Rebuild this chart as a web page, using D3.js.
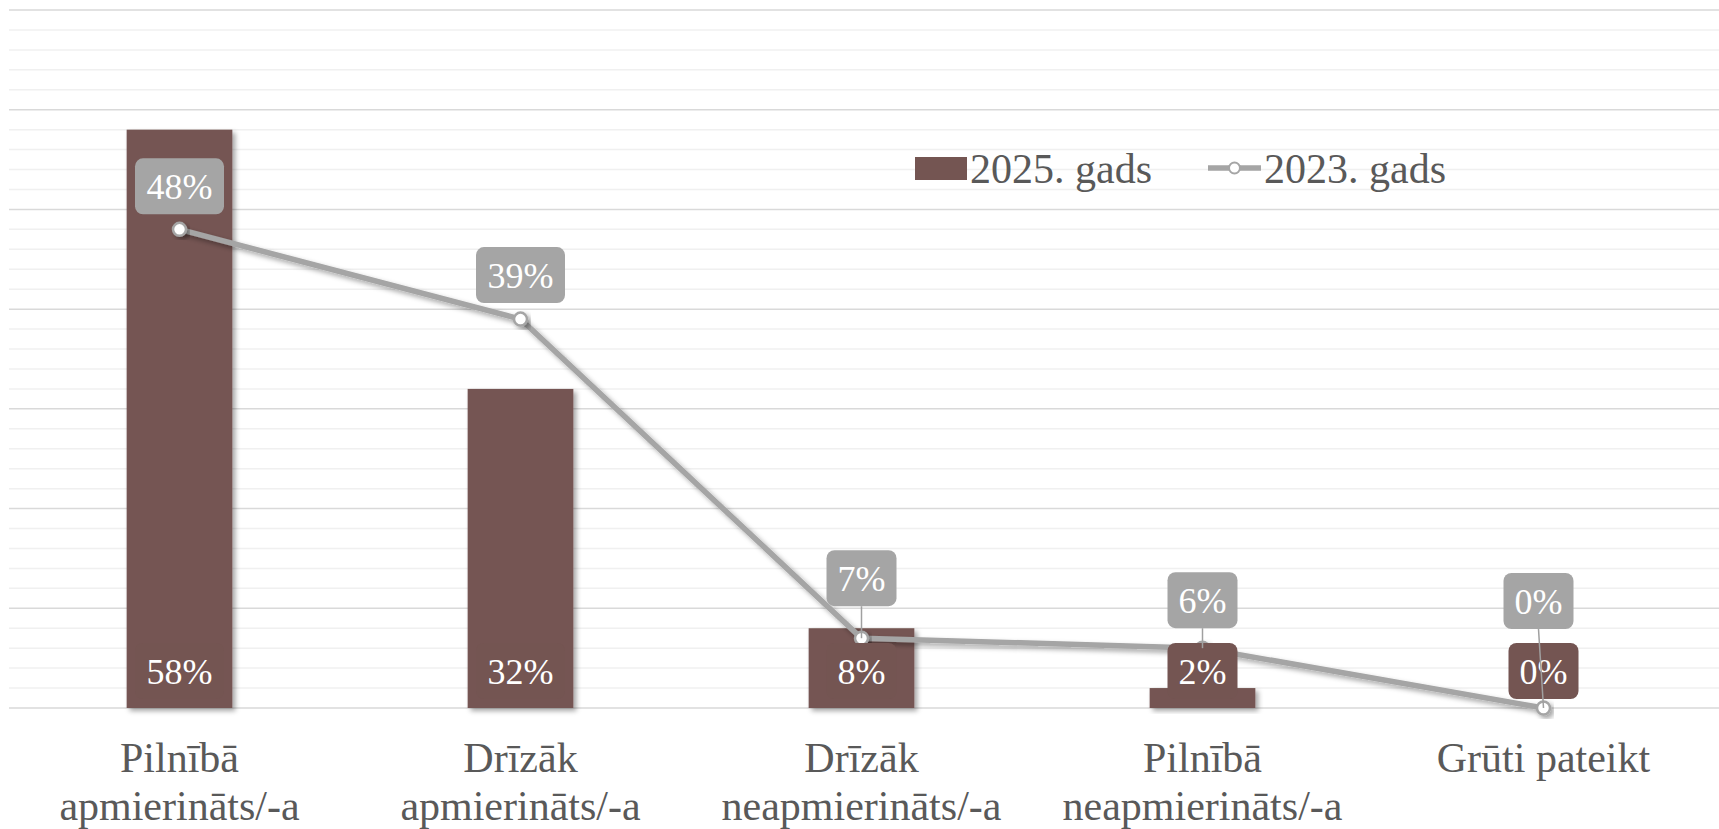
<!DOCTYPE html>
<html>
<head>
<meta charset="utf-8">
<script src="https://cdn.jsdelivr.net/npm/d3@7"></script>
<style>
  body { margin: 0; background: #fff; }
  svg { display: block; }
  text { font-family: "Liberation Serif", "Times New Roman", serif; }
</style>
</head>
<body>
<svg id="chart" width="1719" height="829"></svg>
<script>
// data
var categories = [
  ["Pilnībā", "apmierināts/-a"],
  ["Drīzāk", "apmierināts/-a"],
  ["Drīzāk", "neapmierināts/-a"],
  ["Pilnībā", "neapmierināts/-a"],
  ["Grūti pateikt"]
]
var values2025 = [0.58, 0.32, 0.08, 0.02, 0.00]
var values2023 = [0.48, 0.39, 0.07, 0.06, 0.00]
// where the grey 2023 labels sit above their point (px)
var labelLift2023 = [43, 44, 60, 48, 107]
var labelShift2023 = [0, 0, 0, 0, -5]
var seriesNames = ["2025. gads", "2023. gads"]

var barColor = "#745552"
var lineColor = "#a5a5a5"
var textColor = "#595959"

var svg = d3.select("#chart")
var plotLeft = 9, plotRight = 1719, plotTop = 10, plotBottom = 708

var x = d3.scaleBand()
  .domain(d3.range(categories.length))
  .range([plotLeft, 1714])
  .paddingInner(0.69)
  .paddingOuter(0.345)

var y = d3.scaleLinear().domain([0, 0.7]).range([plotBottom, plotTop])

// shadows
var defs = svg.append("defs")
var f = defs.append("filter").attr("id", "shadow")
  .attr("x", "-20%").attr("y", "-20%").attr("width", "150%").attr("height", "150%")
f.append("feDropShadow")
  .attr("dx", 3).attr("dy", 3).attr("stdDeviation", 2.5)
  .attr("flood-color", "#000").attr("flood-opacity", 0.35)

// gridlines, minor every 2%, major every 10%
var ticks = d3.range(0, 36)
svg.append("g").selectAll("line")
  .data(ticks)
  .enter()
  .append("line")
    .attr("x1", plotLeft)
    .attr("x2", plotRight)
    .attr("y1", function(d){ return y(d*0.02) })
    .attr("y2", function(d){ return y(d*0.02) })
    .attr("stroke", function(d){ return d % 5 == 0 ? "#d9d9d9" : "#f0f0f0" })
    .attr("stroke-width", 1.5)

// bars
svg.append("g").selectAll("rect")
  .data(values2025)
  .enter()
  .append("rect")
    .attr("x", function(d,i){ return x(i) })
    .attr("y", function(d){ return y(d) })
    .attr("width", x.bandwidth())
    .attr("height", function(d){ return plotBottom - y(d) })
    .attr("fill", barColor)
    .attr("filter", "url(#shadow)")

// line 2023
var cx = function(i){ return x(i) + x.bandwidth()/2 }
var line = d3.line()
  .x(function(d,i){ return cx(i) })
  .y(function(d){ return y(d) })

svg.append("path")
  .datum(values2023)
  .attr("d", line)
  .attr("fill", "none")
  .attr("stroke", lineColor)
  .attr("stroke-width", 5.5)
  .attr("stroke-linejoin", "round")
  .attr("filter", "url(#shadow)")

svg.append("g").selectAll("circle")
  .data(values2023)
  .enter()
  .append("circle")
    .attr("cx", function(d,i){ return cx(i) })
    .attr("cy", function(d){ return y(d) })
    .attr("r", 6.5)
    .attr("fill", "#fff")
    .attr("stroke", lineColor)
    .attr("stroke-width", 2.5)
    .attr("filter", "url(#shadow)")

// label helper
function pct(d){ return Math.round(d*100) + "%" }
function boxW(d){ return pct(d).length > 2 ? 89 : 70 }

// bar labels
var barLab = svg.append("g").selectAll("g")
  .data(values2025)
  .enter()
  .append("g")
    .attr("transform", function(d,i){ return "translate(" + cx(i) + ",671)" })
barLab.append("rect")
  .attr("x", function(d){ return -boxW(d)/2 })
  .attr("y", -28)
  .attr("width", function(d){ return boxW(d) })
  .attr("height", 56)
  .attr("rx", 8)
  .attr("fill", barColor)
barLab.append("text")
  .attr("text-anchor", "middle")
  .attr("y", 12.5)
  .attr("font-size", 36)
  .attr("fill", "#fff")
  .text(pct)

// line labels
var lineLab = svg.append("g").selectAll("g")
  .data(values2023)
  .enter()
  .append("g")
lineLab.append("line")
  .attr("x1", function(d,i){ return cx(i) + labelShift2023[i] })
  .attr("y1", function(d,i){ return y(d) - labelLift2023[i] + 28 })
  .attr("x2", function(d,i){ return cx(i) })
  .attr("y2", function(d){ return y(d) })
  .attr("stroke", "#a0a0a0")
  .attr("stroke-width", function(d,i){ return labelLift2023[i] > 45 ? 1.5 : 0 })
lineLab.append("rect")
  .attr("x", function(d,i){ return cx(i) + labelShift2023[i] - boxW(d)/2 })
  .attr("y", function(d,i){ return y(d) - labelLift2023[i] - 28 })
  .attr("width", function(d){ return boxW(d) })
  .attr("height", 56)
  .attr("rx", 8)
  .attr("fill", lineColor)
lineLab.append("text")
  .attr("text-anchor", "middle")
  .attr("x", function(d,i){ return cx(i) + labelShift2023[i] })
  .attr("y", function(d,i){ return y(d) - labelLift2023[i] + 12.5 })
  .attr("font-size", 36)
  .attr("fill", "#fff")
  .text(pct)

// category labels
var catLab = svg.append("g").selectAll("text")
  .data(categories)
  .enter()
  .append("text")
    .attr("text-anchor", "middle")
    .attr("font-size", 42)
    .attr("fill", textColor)
catLab.selectAll("tspan")
  .data(function(d,i){ return d.map(function(t){ return {t: t, i: i} }) })
  .enter()
  .append("tspan")
    .attr("x", function(d){ return cx(d.i) })
    .attr("y", function(d,j){ return 772 + j*48 })
    .text(function(d){ return d.t })

// legend
var lg = svg.append("g")
lg.append("rect")
  .attr("x", 915).attr("y", 157).attr("width", 52).attr("height", 23)
  .attr("fill", barColor)
lg.append("text")
  .attr("x", 970).attr("y", 183)
  .attr("font-size", 42).attr("fill", textColor)
  .text(seriesNames[0])
lg.append("line")
  .attr("x1", 1208).attr("x2", 1261).attr("y1", 168).attr("y2", 168)
  .attr("stroke", lineColor).attr("stroke-width", 5.5)
lg.append("circle")
  .attr("cx", 1234.5).attr("cy", 168).attr("r", 5.5)
  .attr("fill", "#fff").attr("stroke", lineColor).attr("stroke-width", 2)
lg.append("text")
  .attr("x", 1264).attr("y", 183)
  .attr("font-size", 42).attr("fill", textColor)
  .text(seriesNames[1])
</script>
</body>
</html>
